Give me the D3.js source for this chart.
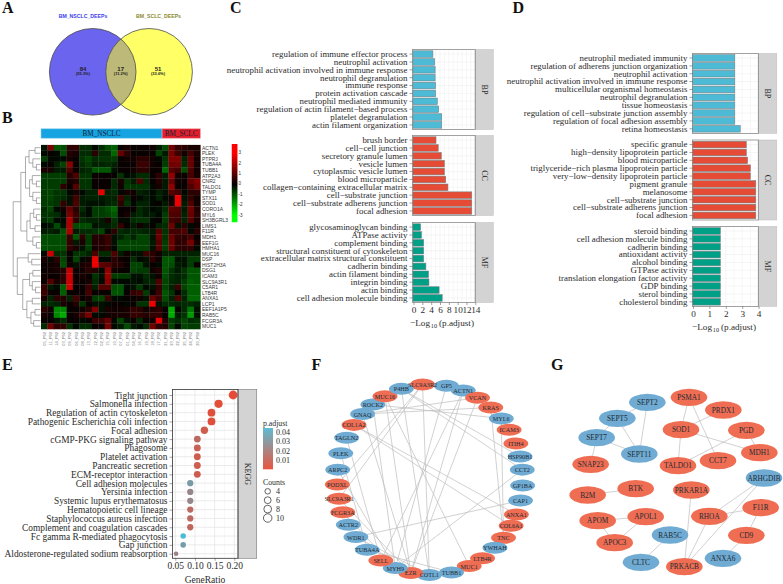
<!DOCTYPE html>
<html><head><meta charset="utf-8">
<script src="https://cdnjs.cloudflare.com/ajax/libs/d3/7.8.5/d3.min.js"></script>
<style>html,body{margin:0;padding:0;background:#fff}svg{display:block}</style></head>
<body><svg id="c" width="783" height="584"></svg>
<script>
// ---------- Panel A data
const vennSets = ["BM_NSCLC_DEEPs", "BM_SCLC_DEEPs"];
const vennCounts = [84, 17, 51];
const vennPercents = ["(55.3%)", "(11.2%)", "(33.6%)"];
// ---------- Panel B data
const heatGenes = ["ACTN1","PLEK","PTPRJ","TUBA4A","TUBB1","ATP2A3","CNR2","TALDO1","TYMP","STX11","SOD1","CORO1A","MYL6","SH3BGRL3","LIMS1","F11R","MDH1","EEF1G","HMHA1","MUC16","DSP","HIST2H3A","DSG1","ICAM3","SLC9A3R1","C5AR1","LTB4R","ANXA1","LCP1","EEF1A1P5","RAB5C","FCGR3A","MUC1"];
const heatSamples = ["05_P92","11_P92","14_P92","03_P92","09_P92","06_P92","08_P92","13_P92","12_P92","02_P92","15_P92","10_P92","07_P92","01_P92","04_P92","16_P92","19_P92","18_P92","17_P92","21_P92","23_P92","22_P92","25_P92","24_P92","20_P92"];
const heatGroups = ["BM_NSCLC","BM_SCLC"];
const heatGroupSizes = [19, 6];
const heatValues = [
[-.2,1.4,-1,-.9,.5,.6,-.5,-.5,-.1,-.5,-.9,-1.1,.1,.3,.1,.1,.1,.2,-.3,-.9,1.3,.6,.5,.3,.3],
[-.1,.1,-.1,-.9,.4,.3,-.5,-.5,.5,-.5,-.5,-1.2,1.2,.5,.1,.1,.1,.1,-.8,-.3,1.4,.7,.2,.8,.3],
[-.7,-.1,-.1,-.1,.3,.1,-.6,-.8,-.5,-.6,-.6,-.7,.1,.2,.2,.5,.5,.2,-.1,-.6,1.5,1.5,-.4,1.2,.2],
[-.1,.1,-.4,-.8,1.6,.1,-.5,-.7,-.4,-.4,-.5,-.4,.1,.1,.1,.7,.7,.2,.1,-.7,1.3,1.4,-.5,1.2,.2],
[.3,.3,-.3,-.3,.9,.1,-.4,-.5,-1,-1,-1,-.2,.1,.1,.2,.5,.5,.1,.1,-1.2,1,.8,-.9,.9,.2],
[-.7,-.7,-.7,-.7,.4,.9,-.6,-.6,.1,.1,.1,.1,-.6,-.1,-.2,-.5,-.5,.1,.5,-.3,1.7,.2,.1,.8,.3],
[-.7,-.7,-.7,-.7,.3,.4,-.6,-.6,.1,.1,.1,-.5,.3,-.6,-.3,.9,-.5,.1,.4,-.3,1.2,.2,.1,1.2,1.5],
[-.7,-.7,-.7,.5,.1,1,-.6,-.6,.1,.1,.1,-.5,.2,-.7,-.6,-.6,-.6,-.1,.3,-.3,1.7,.1,.1,.9,1.4],
[-.7,-.8,-.6,-.6,-.1,.3,-.1,-.4,-.4,2.7,-.4,-.5,-.1,.3,.2,-.4,-.3,-.1,-.4,-.2,1,.8,-.1,.5,.5],
[-.7,-.8,-.6,-.5,-.2,.8,-.3,-.4,-.4,-.3,-.4,-.4,.8,-.4,.1,-.1,-.3,-.1,-.4,-.1,.2,2.8,-.2,.6,.2],
[-.7,-.7,-.6,.6,-.2,.9,-.3,-.2,-.2,-.2,-.4,-.5,.5,-.6,-.1,-.4,-.4,-.1,.1,-.3,.3,2.8,-.3,.9,.2],
[-.5,-.8,-.1,.2,1.2,.5,-.5,-.1,-.7,-.7,-.9,-1.2,.1,.1,.1,-.5,-.3,-.1,-.2,-.5,1.1,1,-.3,1.3,.4],
[-.6,-.6,-.5,-.1,1.4,.7,-.3,-.1,-.7,-.7,-.8,-1,.1,.3,-.3,-.5,-.3,-.3,-.1,-.7,.9,.9,-.4,1.2,.5],
[-.5,-.7,-.1,-.1,2,.5,-.5,-.4,-.4,-.3,.3,-.6,-.1,-.1,-.5,-.6,-.6,-.1,.1,-.7,.8,.7,-.4,1,.3],
[-.1,-.2,-.9,-.2,2,-.9,-.9,-.9,-.2,-.3,-.3,-.5,.6,.1,-.3,.2,-.2,.1,-.4,-.5,1.3,-.2,.5,-.1,.2],
[-.3,-.4,-.3,-.9,2,-.3,-.5,-.5,-.6,-.8,-.1,.5,-.5,-.4,-.5,-.5,-.4,-.3,1,-.6,.8,.8,.9,-.1,.5],
[-.9,-.9,-.9,-.9,.7,-1,.5,-.7,.4,.4,.7,-.2,-.4,-.7,-.4,-.8,-.8,-.2,1.2,-.6,1.2,.6,.5,.8,.1],
[-.9,-.9,-.9,-.9,.6,-.3,.3,-.7,.4,.4,.7,-.2,-.8,-.8,-.8,-.8,-.8,-.3,1,-.7,1.3,.5,.6,1.4,.3],
[-.9,-.9,-.9,-.9,.6,.3,-.2,-.7,.3,.4,.5,-.1,-.8,-.8,-.8,-.8,-.8,-.2,1,-.7,1.2,.5,.5,.6,-.1],
[-.1,2.4,-.5,-.6,.1,-.6,-.6,-.4,.9,-.5,-.5,.9,-.3,.2,-.2,-.2,.7,.5,.2,-.4,-.4,-.4,-.4,-.4,-.4],
[.3,-.1,.5,-.8,.1,-.8,-.1,.2,2.8,-.1,-.1,.5,.2,.1,-.5,-.1,-.2,.5,.2,-1,-1,-.2,-.2,-.7,-.7],
[.1,.2,.3,-.9,.2,-.2,.3,.4,2.8,1.1,1,.5,.4,.1,-.8,-.8,-.2,.1,-.1,-1,-.9,-.3,-.2,-.7,.1],
[.1,.2,.3,.4,2.2,.1,.2,.5,.4,-.1,1.7,.2,.1,.1,-.8,-.7,-.7,.2,.4,-1,-.6,-.3,-.6,-1,-1],
[.2,.1,.1,.5,2.4,.1,.3,.1,-.6,-.2,1.8,-.7,-.7,-.7,-.2,-.2,-.5,-.2,.2,-.9,-.5,-.4,-.5,-1,-1],
[.1,1,.3,.5,2.4,.2,.1,.3,-.5,-.1,1.6,-.1,-.1,-.1,-.2,-.1,-.4,-.4,.9,-.8,-.5,-.4,-.7,-1.1,-1],
[.6,-.3,-.1,-1.1,2.4,.1,.1,.7,-.4,1,1,-.9,-1,-.1,-.2,-.7,-.1,-.2,.6,-.8,-.4,.7,-.8,-1.1,-1.1],
[.7,.1,.1,-1.1,.1,.1,.1,.8,.1,.1,.1,-1,-1,.1,.6,.7,-.7,.1,.7,-1,-.6,.1,-.5,-1.1,-1.1],
[.3,-.4,.5,.4,-.4,.8,.1,.3,-.7,-.8,.7,-.1,-.1,.1,.1,.2,-.2,1.2,.7,-.9,-.4,.9,-.4,-1.2,-1.2],
[-.4,-.5,-.4,.3,.1,.4,-.6,.1,-.2,-.2,-.1,.1,.1,-.1,.1,-.6,-.6,2.8,-.2,-.5,-.5,-.4,-.5,-.5,-.4],
[.5,.2,-1.6,-1.6,.1,.1,.2,.5,1.5,-.2,.3,.2,.2,.3,.6,.5,.2,.4,.5,.1,-2,.1,-.5,-1.4,-.2],
[.3,.1,-1.6,-2,.1,.3,.7,1.4,-.1,-.1,.2,.3,.3,.3,.6,.6,.4,.6,.6,.1,-2,-.3,-.6,-1.8,-.2],
[.1,.1,-.2,-.5,.1,.1,-.1,.1,.7,.7,1.2,-.1,-.8,-.2,.1,-.5,.1,.2,2.7,.4,-.7,-.5,-.8,-.5,-.6],
[-.5,1.3,.5,.6,-.6,-.1,-.5,-.5,.1,.1,1.4,-.1,-.3,-.9,-.3,-.1,-.5,1.3,.5,.4,-.8,-.1,-.8,-.7,-.7]];
const heatLegendTicks = [3,2,1,0,-1,-2,-3];
// row dendrogram: [height, left, right]
const heatTree = [1,
 [.72,
  [.55,[.42,[.2,"ACTN1","PLEK"],[.28,"PTPRJ",[.15,"TUBA4A","TUBB1"]]],
       [.4,[.3,"ATP2A3",[.15,"CNR2","TALDO1"]],[.28,"TYMP",[.15,"STX11","SOD1"]]]],
  [.5,[.38,[.25,"CORO1A",[.15,"MYL6","SH3BGRL3"]],[.2,"LIMS1","F11R"]],[.28,"MDH1",[.15,"EEF1G","HMHA1"]]]],
 [.85,[.45,"MUC16",[.32,"DSP","HIST2H3A"]],
  [.65,[.4,[.28,"DSG1","ICAM3"],[.3,"SLC9A3R1",[.18,"C5AR1","LTB4R"]]],
       [.5,[.3,"ANXA1","LCP1"],[.35,[.2,"EEF1A1P5","RAB5C"],[.25,"FCGR3A","MUC1"]]]]]];
// ---------- Panel C data
const cBP = ["regulation of immune effector process","neutrophil activation","neutrophil activation involved in immune response","neutrophil degranulation","immune response","protein activation cascade","neutrophil mediated immunity","regulation of actin filament\u2212based process","platelet degranulation","actin filament organization"];
const cBPv = [4.4,4.8,4.9,4.9,5,5,5.4,5.7,6.4,6.4];
const cCC = ["brush border","cell\u2212cell junction","secretory granule lumen","vesicle lumen","cytoplasmic vesicle lumen","blood microparticle","collagen\u2212containing extracellular matrix","cell\u2212substrate junction","cell\u2212substrate adherens junction","focal adhesion"];
const cCCv = [5.1,5.6,6.3,7,7,7.3,7.8,13.2,13.2,13.2];
const cMF = ["glycosaminoglycan binding","ATPase activity","complement binding","structural constituent of cytoskeleton","extracellular matrix structural constituent","cadherin binding","actin filament binding","integrin binding","actin binding","cell adhesion molecule binding"];
const cMFv = [1.6,1.8,2.3,2.3,2.3,2.8,3.4,3.5,5.8,6.5];
const cTicks = [0,2,4,6,8,10,12,14];
// ---------- Panel D data
const dBP = ["neutrophil mediated immunity","regulation of adherens junction organization","neutrophil activation","neutrophil activation involved in immune response","multicellular organismal homeostasis","neutrophil degranulation","tissue homeostasis","regulation of cell\u2212substrate junction assembly","regulation of focal adhesion assembly","retina homeostasis"];
const dBPv = [2.55,2.55,2.55,2.55,2.55,2.55,2.55,2.55,2.55,2.88];
const dCC = ["specific granule","high\u2212density lipoprotein particle","blood microparticle","triglyceride\u2212rich plasma lipoprotein particle","very\u2212low\u2212density lipoprotein particle","pigment granule","melanosome","cell\u2212substrate junction","cell\u2212substrate adherens junction","focal adhesion"];
const dCCv = [3.25,3.25,3.33,3.5,3.5,3.83,3.83,3.83,3.83,3.83];
const dMF = ["steroid binding","cell adhesion molecule binding","cadherin binding","antioxidant activity","alcohol binding","GTPase activity","translation elongation factor activity","GDP binding","sterol binding","cholesterol binding"];
const dMFv = [1.67,1.67,1.67,1.67,1.67,1.67,1.67,1.67,1.67,1.67];
const dTicks = [0,1,2,3,4];
// ---------- Panel E data
const kTerms = ["Tight junction","Salmonella infection","Regulation of actin cytoskeleton","Pathogenic Escherichia coli infection","Focal adhesion","cGMP-PKG signaling pathway","Phagosome","Platelet activation","Pancreatic secretion","ECM-receptor interaction","Cell adhesion molecules","Yersinia infection","Systemic lupus erythematosus","Hematopoietic cell lineage","Staphylococcus aureus infection","Complement and coagulation cascades","Fc gamma R-mediated phagocytosis","Gap junction","Aldosterone-regulated sodium reabsorption"];
const kRatio = [.197,.16,.142,.142,.124,.106,.106,.106,.106,.106,.088,.088,.088,.088,.088,.088,.07,.07,.052];
const kCounts = [11,9,8,8,7,6,6,6,6,6,5,5,5,5,5,5,4,4,3];
const kPadj = [.002,.003,.004,.004,.009,.014,.011,.009,.009,.009,.033,.025,.025,.014,.014,.013,.046,.034,.024];
const kRatioTicks = [.05,.10,.15,.20];
const kPadjTicks = [.04,.03,.02,.01];
const kCountTicks = [4,6,8,10];
// ---------- Panel F data (ring order, angle read clockwise from the top, in degrees)
const fNames = ["SLC9A3R2","GP5","ACTN1","VCAN","KRAS","MYL6","ICAM3","ITIH4","HSP90B1","CCT2","GP1BA","CAP1","ANXA1","COL6A1","TNC","YWHAH","LTB4R","MUC1","TUBB1","COTL1","EZR","MYH9","SELL","TUBA4A","WDR1","ACTR2","FCGR3A","SLC9A3R1","PODXL","ARPC2","PLEK","TAGLN2","COL1A2","GNAQ","ROCK2","MUC16","P4HB"];
const fAngles = [-4.6,10.2,21,30.8,40.9,50.2,58.5,67.7,76,84,93.5,102.7,111.4,119,127.6,135.6,145.5,155,166.6,180.4,192,202,212,222.6,233,241.7,250,258.4,267,276,286,296,305,313.4,322,331,342];
const fUp = ["SLC9A3R2","VCAN","KRAS","ICAM3","ITIH4","ANXA1","COL6A1","TNC","LTB4R","MUC1","EZR","SELL","FCGR3A","SLC9A3R1","PODXL","COL1A2","MUC16"];
const fEdges = [["MUC16","EZR"],["SLC9A3R2","COTL1"],["SLC9A3R2","PODXL"],["SLC9A3R2","SLC9A3R1"],["P4HB","HSP90B1"],["P4HB","CCT2"],["ROCK2","MYL6"],["GNAQ","VCAN"],["GNAQ","KRAS"],["GP5","MYH9"],["ACTN1","SELL"],["ACTN1","EZR"],["VCAN","EZR"],["KRAS","TNC"],["MYL6","TNC"],["COL1A2","COL6A1"],["COL1A2","ANXA1"],["PLEK","TUBA4A"],["TAGLN2","SELL"],["GNAQ","EZR"],["ROCK2","MYH9"],["MUC16","MUC1"],["P4HB","COTL1"],["CCT2","MYH9"],["CAP1","WDR1"],["SLC9A3R1","EZR"],["FCGR3A","MYH9"],["WDR1","COTL1"],["TUBA4A","TUBB1"],["ARPC2","MYH9"]];
// ---------- Panel G data (hand-arranged layout units)
const gNames = ["SEPT2","SEPT5","SEPT7","SEPT11","SNAP23","PSMA1","PRDX1","SOD1","PGD","MDH1","CCT7","TALDO1","ARHGDIB","PRKAR1A","BTK","B2M","F11R","RHOA","APOL1","APOM","CD9","RAB5C","APOC3","ANXA6","CLTC","PRKACB"];
const gLayoutX = [322,232,170,298,152,447,550,423,619,658,534,414,672,454,287,143,662,508,317,173,619,390,224,549,303,433];
const gLayoutY = [232,280,338,387,418,217,255,314,316,383,407,422,459,495,491,510,548,574,575,587,631,630,653,700,712,725];
const gDown = ["SEPT2","SEPT5","SEPT7","SEPT11","ARHGDIB","RAB5C","ANXA6","CLTC"];
const gEdges = [["SEPT2","SEPT5"],["SEPT5","SEPT7"],["SEPT7","SEPT11"],["SEPT5","SEPT11"],["SEPT2","SEPT11"],["SEPT7","SNAP23"],["PSMA1","SOD1"],["PSMA1","CCT7"],["PRDX1","SOD1"],["SOD1","TALDO1"],["SOD1","MDH1"],["PGD","MDH1"],["PGD","TALDO1"],["B2M","BTK"],["APOM","APOL1"],["APOM","APOC3"],["APOL1","APOC3"],["RAB5C","CLTC"],["PRKAR1A","PRKACB"],["RHOA","PRKACB"],["ARHGDIB","RHOA"],["ARHGDIB","PRKACB"],["RHOA","F11R"],["F11R","CD9"],["CD9","ANXA6"]];

// ---------- drawing
const svg = d3.select("#c");
const SERIF = "'Liberation Serif','Times New Roman',serif", SANS = "'Liberation Sans',Arial,sans-serif";
const text = (g,x,y,s,o={}) => g.append("text").attr("x",x).attr("y",y).text(s)
  .attr("font-family",o.family||SERIF).attr("font-size",o.size||9).attr("fill",o.fill||"#2b2b2b")
  .attr("font-weight",o.weight||"normal").attr("text-anchor",o.anchor||"start").attr("dominant-baseline",o.base||"central");

[["A",2,12.5],["B",2,122.5],["C",230,12.5],["D",512.5,12.5],["E",2,370],["F",311.5,370],["G",551,370]]
  .forEach(d=>text(svg,d[1],d[2],d[0],{size:16,weight:"bold",fill:"#111",base:"auto"}));

// A: Venn
(function(){
  const g = svg.append("g"), r = 43.3, cy = 71.8, cx = [92.7,149.1];
  svg.append("defs").append("clipPath").attr("id","vc").append("circle").attr("cx",cx[0]).attr("cy",cy).attr("r",r);
  g.append("circle").attr("cx",cx[0]).attr("cy",cy).attr("r",r).attr("fill","#6a64ee");
  g.append("circle").attr("cx",cx[1]).attr("cy",cy).attr("r",r).attr("fill","#ffff66");
  g.append("circle").attr("cx",cx[1]).attr("cy",cy).attr("r",r).attr("fill","#bdb978").attr("clip-path","url(#vc)");
  cx.forEach(c=>g.append("circle").attr("cx",c).attr("cy",cy).attr("r",r).attr("fill","none").attr("stroke","#4a4a4a").attr("stroke-width",.8));
  text(g,83,16,vennSets[0],{family:SANS,size:5.2,weight:"bold",fill:"#3c3cf0",anchor:"middle"});
  text(g,158.5,16,vennSets[1],{family:SANS,size:5.2,weight:"bold",fill:"#8a8a30",anchor:"middle"});
  [83,120.7,158].forEach((x,i)=>{
    text(g,x,69,vennCounts[i],{family:SANS,size:6,weight:"bold",fill:"#222",anchor:"middle"});
    text(g,x,73.8,vennPercents[i],{family:SANS,size:4,weight:"bold",fill:"#222",anchor:"middle"});
  });
})();

// B: heatmap
(function(){
  const g = svg.append("g");
  const x = d3.scaleBand().domain(d3.range(heatSamples.length)).range([41,200.3]);
  const y = d3.scaleBand().domain(heatGenes).range([144.9,329]);
  const color = d3.scaleLinear().domain([-3,0,3]).range(["#00ff00","#000000","#ff0000"]).clamp(true);
  heatValues.forEach((row,i)=>g.selectAll(null).data(row).enter().append("rect")
    .attr("x",(d,j)=>x(j)).attr("y",y(heatGenes[i])).attr("width",x.bandwidth()+.3).attr("height",y.bandwidth()+.3).attr("fill",d=>color(d)));
  // column group bar
  let start = 0;
  heatGroups.forEach((name,i)=>{
    const x0 = x(start), x1 = x(start+heatGroupSizes[i]-1)+x.bandwidth();
    g.append("rect").attr("x",x0).attr("y",128.8).attr("width",x1-x0).attr("height",9.4).attr("fill",["#16a3e2","#e31e2c"][i])
      .attr("stroke",["#8fd0ef","#f09aa0"][i]).attr("stroke-width",.6);
    text(g,(x0+x1)/2,133.6,name,{size:7.2,anchor:"middle",fill:"#123"});
    start += heatGroupSizes[i];
  });
  heatGenes.forEach(n=>text(g,202,y(n)+y.bandwidth()/2,n,{family:SANS,size:5,fill:"#3a3a3a"}));
  heatSamples.forEach((n,j)=>{
    g.append("text").attr("transform",`translate(${x(j)+x.bandwidth()/2},332) rotate(-90)`).text(n)
     .attr("font-family",SANS).attr("font-size",4).attr("fill","#777").attr("text-anchor","end").attr("dominant-baseline","central");
  });
  // dendrogram
  const hx = d3.scaleLinear().domain([0,1]).range([40.5,13.2]);
  const dg = g.append("g").attr("fill","none").attr("stroke","#6a6a6a").attr("stroke-width",.55);
  (function walk(n){
    if (typeof n === "string") return {y:y(n)+y.bandwidth()/2,x:hx(0)};
    const a = walk(n[1]), b = walk(n[2]), px = hx(n[0]);
    dg.append("path").attr("d",`M${a.x},${a.y}H${px}V${b.y}H${b.x}`);
    return {y:(a.y+b.y)/2,x:px};
  })(heatTree);
  // legend
  const ly = d3.scaleLinear().domain([3,-3]).range([152.7,215]);
  const steps = d3.range(144,222,1);
  g.selectAll(null).data(steps).enter().append("rect").attr("x",231.8).attr("y",d=>d).attr("width",5.6).attr("height",1.2)
    .attr("fill",d=>color(ly.invert(d)));
  heatLegendTicks.forEach(t=>text(g,238.5,ly(t),t,{family:SANS,size:4.6,fill:"#333"}));
})();

// C, D: faceted bars
function barFacet(o){
  const g = svg.append("g");
  const x = d3.scaleLinear().domain([0,o.ticks[o.ticks.length-1]]).range([o.x0,o.x1]);
  o.rows.forEach((f,k)=>{
    const top = o.tops[k], bot = top+o.h;
    const y = d3.scaleBand().domain(f.terms).range([top+.65,bot-.65]).paddingInner(.16).paddingOuter(.08);
    g.append("rect").attr("x",o.pl).attr("y",top).attr("width",o.pr-o.pl).attr("height",o.h).attr("fill","#fff");
    const minor = d3.pairs(o.ticks).map(p=>(p[0]+p[1])/2);
    o.ticks.concat(minor).forEach(t=>g.append("line").attr("x1",x(t)).attr("x2",x(t)).attr("y1",top).attr("y2",bot).attr("stroke","#ececec").attr("stroke-width",.5));
    f.terms.forEach(t=>g.append("line").attr("x1",o.pl).attr("x2",o.pr).attr("y1",y(t)+y.bandwidth()/2).attr("y2",y(t)+y.bandwidth()/2).attr("stroke","#ececec").attr("stroke-width",.5));
    g.selectAll(null).data(f.values).enter().append("rect")
      .attr("x",x(0)-.6).attr("y",(d,i)=>y(f.terms[i])).attr("height",y.bandwidth())
      .attr("width",d=>x(d)-x(0)+.6).attr("fill",f.color).attr("stroke","#6f7c80").attr("stroke-width",.55);
    g.append("rect").attr("x",o.pl).attr("y",top).attr("width",o.pr-o.pl).attr("height",o.h).attr("fill","none").attr("stroke","#8a8a8a").attr("stroke-width",.8);
    g.append("rect").attr("x",o.pr).attr("y",top).attr("width",o.sw).attr("height",o.h).attr("fill","#d3d3d3").attr("stroke","#bdbdbd").attr("stroke-width",.5);
    g.append("line").attr("x1",o.pr).attr("x2",o.pr).attr("y1",top).attr("y2",bot).attr("stroke","#8a8a8a").attr("stroke-width",.8);
    g.append("text").attr("transform",`translate(${o.pr+o.sw/2},${top+o.h/2}) rotate(90)`).text(f.name)
      .attr("font-family",SERIF).attr("font-size",8).attr("fill","#2b2b2b").attr("text-anchor","middle").attr("dominant-baseline","central");
    const ay = g.append("g").attr("transform",`translate(${o.pl},0)`).call(d3.axisLeft(y).tickSize(3).tickPadding(2));
    ay.select(".domain").remove();
    ay.selectAll("line").attr("stroke","#444").attr("stroke-width",.5);
    ay.selectAll("text").attr("font-family",SERIF).attr("font-size",o.fs).attr("fill","#2b2b2b");
  });
  const botY = o.tops[2]+o.h;
  const ax = g.append("g").attr("transform",`translate(0,${botY})`).call(d3.axisBottom(x).tickValues(o.ticks).tickSize(2.5).tickPadding(1.5).tickFormat(d3.format("d")));
  ax.select(".domain").remove();
  ax.selectAll("line").attr("stroke","#444").attr("stroke-width",.5);
  ax.selectAll("text").attr("font-family",SERIF).attr("font-size",9.2).attr("fill","#2b2b2b");
  const t = g.append("text").attr("x",o.titleX).attr("y",o.titleY).attr("text-anchor","middle").attr("dominant-baseline","central")
    .attr("font-family",SERIF).attr("font-size",9.2).attr("fill","#2b2b2b");
  t.append("tspan").text("\u2212Log");
  t.append("tspan").text("10").attr("font-size",6.2).attr("dy",2).attr("dx",.8);
  t.append("tspan").text("(p.adjust)").attr("dy",-2).attr("dx",2);
}
const BLUE="#4dbbd5", RED="#e64b35", GREEN="#00a087";
barFacet({x0:413.5,x1:475.3,pl:412.5,pr:475.3,sw:18,h:80,tops:[49.5,135.5,222.5],fs:8.9,ticks:cTicks,titleX:442,titleY:323,
  rows:[{name:"BP",terms:cBP,values:cBPv,color:BLUE},{name:"CC",terms:cCC,values:cCCv,color:RED},{name:"MF",terms:cMF,values:cMFv,color:GREEN}]});
barFacet({x0:693,x1:758.6,pl:692.5,pr:758.4,sw:18.4,h:80,tops:[53.4,140,226.4],fs:8.9,ticks:dTicks,titleX:724,titleY:327,
  rows:[{name:"BP",terms:dBP,values:dBPv,color:BLUE},{name:"CC",terms:dCC,values:dCCv,color:RED},{name:"MF",terms:dMF,values:dMFv,color:GREEN}]});

// E: dot plot
(function(){
  const g = svg.append("g"), L=172.5,R=238,T=389.5,B=558.3;
  const x = d3.scaleLinear().domain([.05,.20]).range([175.3,234.3]);
  const y = d3.scalePoint().domain(kTerms).range([395,553.7]);
  const r = d3.scaleLog().domain([3,11]).range([2.3,4.4]);
  const c = d3.scaleLinear().domain([.002,.046]).range(["#e64b35","#4dbbd5"]);
  g.append("rect").attr("x",L).attr("y",T).attr("width",R-L).attr("height",B-T).attr("fill","#fff");
  const minor = [.075,.125,.175];
  minor.forEach(t=>g.append("line").attr("x1",x(t)).attr("x2",x(t)).attr("y1",T).attr("y2",B).attr("stroke","#f0f0f0").attr("stroke-width",.5));
  kRatioTicks.forEach(t=>g.append("line").attr("x1",x(t)).attr("x2",x(t)).attr("y1",T).attr("y2",B).attr("stroke","#e2e2e2").attr("stroke-width",.7));
  kTerms.forEach(t=>g.append("line").attr("x1",L).attr("x2",R).attr("y1",y(t)).attr("y2",y(t)).attr("stroke","#e2e2e2").attr("stroke-width",.7));
  g.selectAll(null).data(kRatio).enter().append("circle").attr("cx",d=>x(d)).attr("cy",(d,i)=>y(kTerms[i]))
    .attr("r",(d,i)=>r(kCounts[i])).attr("fill",(d,i)=>c(kPadj[i]));
  g.append("rect").attr("x",R).attr("y",T).attr("width",18.7).attr("height",B-T).attr("fill","#d3d3d3").attr("stroke","#777").attr("stroke-width",.6);
  g.append("rect").attr("x",L).attr("y",T).attr("width",R-L).attr("height",B-T).attr("fill","none").attr("stroke","#333").attr("stroke-width",.8);
  g.append("text").attr("transform",`translate(${R+9.3},${(T+B)/2}) rotate(90)`).text("KEGG").attr("font-family",SERIF).attr("font-size",8).attr("fill","#2b2b2b").attr("text-anchor","middle").attr("dominant-baseline","central");
  const ay = g.append("g").attr("transform",`translate(${L},0)`).call(d3.axisLeft(y).tickSize(3).tickPadding(2));
  ay.select(".domain").remove(); ay.selectAll("line").attr("stroke","#444").attr("stroke-width",.5);
  ay.selectAll("text").attr("font-family",SERIF).attr("font-size",9.4).attr("fill","#2b2b2b");
  const ax = g.append("g").attr("transform",`translate(0,${B})`).call(d3.axisBottom(x).tickValues(kRatioTicks).tickSize(2.5).tickPadding(1.5).tickFormat(d3.format(".2f")));
  ax.select(".domain").remove(); ax.selectAll("line").attr("stroke","#444").attr("stroke-width",.5);
  ax.selectAll("text").attr("font-family",SERIF).attr("font-size",9.5).attr("fill","#2b2b2b");
  text(g,205,580,"GeneRatio",{size:9.5,anchor:"middle"});
  // legends
  text(g,263,423,"p.adjust",{size:7.8});
  const ly = d3.scaleLinear().domain([.04,.01]).range([432,460.5]);
  g.selectAll(null).data(d3.range(428,469,.5)).enter().append("rect").attr("x",263).attr("y",d=>d).attr("width",10).attr("height",.8)
    .attr("fill",d=>c(Math.max(.002,Math.min(.046,ly.invert(d)))));
  kPadjTicks.forEach(t=>text(g,276,ly(t),t.toFixed(2),{size:8}));
  text(g,263,482,"Counts",{size:7.8});
  const cy = d3.scalePoint().domain(kCountTicks).range([491.3,518]);
  kCountTicks.forEach(t=>{
    g.append("circle").attr("cx",267.7).attr("cy",cy(t)).attr("r",r(t)).attr("fill","#fff").attr("stroke","#222").attr("stroke-width",.7);
    text(g,276,cy(t),t,{size:8});
  });
})();

// F, G: networks
function network(nodes,edges,rx,ry,fs){
  const g = svg.append("g");
  const byName = new Map(nodes.map(n=>[n.name,n]));
  g.selectAll(null).data(edges).enter().append("line")
    .attr("x1",d=>byName.get(d[0]).x).attr("y1",d=>byName.get(d[0]).y)
    .attr("x2",d=>byName.get(d[1]).x).attr("y2",d=>byName.get(d[1]).y)
    .attr("stroke","#bdbdbd").attr("stroke-width",.7);
  g.selectAll(null).data(nodes).enter().append("ellipse").attr("cx",d=>d.x).attr("cy",d=>d.y).attr("rx",rx).attr("ry",ry).attr("fill",d=>d.fill);
  nodes.forEach(n=>text(g,n.x,n.y,n.name,{size:fs,anchor:"middle",fill:"#1e2a33"}));
}
const fUpSet = new Set(fUp), gDownSet = new Set(gDown);
const NB="#6fabd2", NR="#ef6d52";
const fX = d3.scaleLinear().domain([-1,1]).range([430-92.8,430+92.8]);
const fY = d3.scaleLinear().domain([-1,1]).range([479.6-95.4,479.6+95.4]);
const rad = d3.scaleLinear().domain([0,360]).range([0,2*Math.PI]);
network(fNames.map((n,i)=>({name:n,x:fX(Math.sin(rad(fAngles[i]))),y:fY(-Math.cos(rad(fAngles[i]))),fill:fUpSet.has(n)?NR:NB})),fEdges,12.4,6,6.2);
const gX = d3.scaleLinear().domain([0,729]).range([540,783]);
const gY = d3.scaleLinear().domain([0,777]).range([325,584]);
network(gNames.map((n,i)=>({name:n,x:gX(gLayoutX[i]),y:gY(gLayoutY[i]),fill:gDownSet.has(n)?NB:NR})),gEdges,18.3,8.7,7.3);
</script></body></html>
